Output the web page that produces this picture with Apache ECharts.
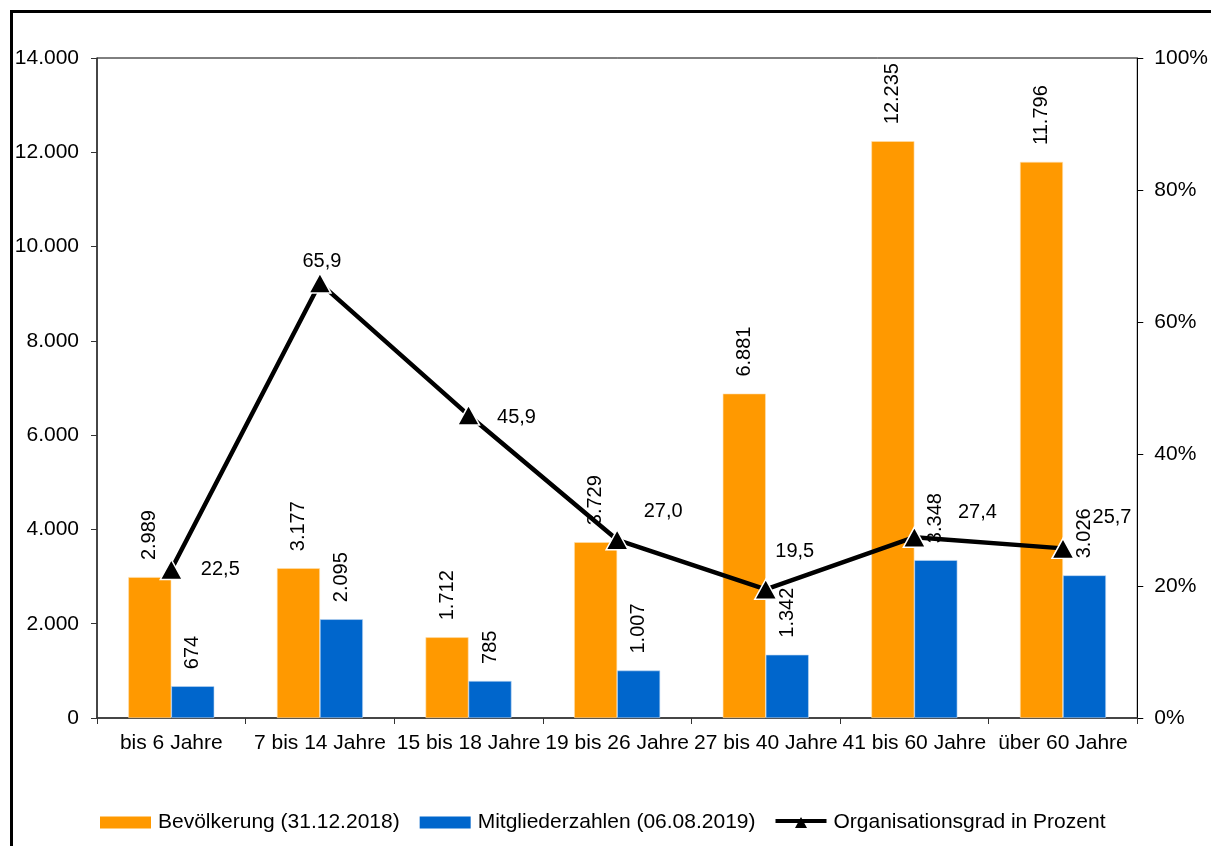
<!DOCTYPE html>
<html>
<head>
<meta charset="utf-8">
<script src="https://cdn.jsdelivr.net/npm/echarts@6/dist/echarts.min.js"></script>
<style>
html,body{margin:0;padding:0;background:#fff;overflow:hidden;}
#chart{width:1211px;height:846px;}
</style>
</head>
<body>
<div id="chart"></div>
<script>
var categories = ['bis 6 Jahre','7 bis 14 Jahre','15 bis 18 Jahre','19 bis 26 Jahre','27 bis 40 Jahre','41 bis 60 Jahre','über 60 Jahre'];
var bevoelkerung = [2989, 3177, 1712, 3729, 6881, 12235, 11796];
var mitglieder = [674, 2095, 785, 1007, 1342, 3348, 3026];
var organisationsgrad = [22.5, 65.9, 45.9, 27.0, 19.5, 27.4, 25.7];
var leftTicks = {min: 0, max: 14000, interval: 2000};
var rightTicks = {min: 0, max: 100, interval: 20};

// label offsets for line labels (style only)
var lineLabelOffsets = [[49,0],[2,-22],[48,2],[46,-28],[29,-38],[63,-25],[49,-31]];

var FONT = 'Liberation Sans, Arial, sans-serif';
function de(v){ return String(v).replace(/\B(?=(\d{3})+(?!\d))/g, '.'); }

var chart = echarts.init(document.getElementById('chart'), null, {renderer:'canvas'});

var barLabel = {
  show: true, position: 'top', rotate: 90, align: 'left', verticalAlign: 'middle',
  distance: 17, fontFamily: FONT, fontSize: 20, color: '#000',
  formatter: function(p){ return de(p.value); }
};

var lineData = organisationsgrad.map(function(v, i){
  return {
    value: v,
    label: {offset: lineLabelOffsets[i]}
  };
});

var lineIcon = 'path://M0,5H51V9H0Z M19.5,14L25.5,3L31.5,14Z';

chart.setOption({
  backgroundColor: '#fff',
  animation: false,
  graphic: [{
    type: 'rect', left: 9, top: 9, z: 100,
    shape: {x: 0, y: 0, width: 1400, height: 1000},
    style: {fill: 'none', stroke: '#000', lineWidth: 3}
  }],
  grid: {left: 97, right: 63, top: 58, bottom: 128, show: true, borderColor: '#000', borderWidth: 1},
  legend: {
    left: 100, top: 812, padding: 0, itemWidth: 51, itemHeight: 12, itemGap: 20,
    textStyle: {fontFamily: FONT, fontSize: 21, color: '#000', padding: [0,0,0,2]},
    data: [
      {name: 'Bevölkerung (31.12.2018)', icon: 'rect', itemStyle: {borderWidth: 0}},
      {name: 'Mitgliederzahlen (06.08.2019)', icon: 'rect', itemStyle: {borderWidth: 0}},
      {name: 'Organisationsgrad in Prozent', icon: lineIcon, itemStyle: {color: '#000', borderWidth: 0}}
    ]
  },
  xAxis: {
    type: 'category', data: categories, boundaryGap: true,
    axisLine: {lineStyle: {color: '#333', width: 1.5}},
    axisTick: {show: true, length: 6, lineStyle: {color: '#333'}},
    axisLabel: {fontFamily: FONT, fontSize: 21, color: '#000', margin: 15, interval: 0}
  },
  yAxis: [{
    type: 'value', min: leftTicks.min, max: leftTicks.max, interval: leftTicks.interval,
    axisLine: {show: true, lineStyle: {color: '#333', width: 1.5}},
    axisTick: {show: true, length: 6, lineStyle: {color: '#333'}},
    splitLine: {show: false},
    axisLabel: {fontFamily: FONT, fontSize: 21, color: '#000', margin: 18, formatter: function(v){ return de(v); }}
  }, {
    type: 'value', min: rightTicks.min, max: rightTicks.max, interval: rightTicks.interval, position: 'right',
    axisLine: {show: true, lineStyle: {color: '#000', width: 1}},
    axisTick: {show: true, length: 6, lineStyle: {color: '#000'}},
    splitLine: {show: false},
    axisLabel: {fontFamily: FONT, fontSize: 21, color: '#000', margin: 17, formatter: '{value}%'}
  }],
  series: [{
    name: 'Bevölkerung (31.12.2018)', type: 'bar', data: bevoelkerung,
    barWidth: 43, barGap: '0%', z: 2,
    itemStyle: {color: '#FF9900', borderColor: '#FFE0B0', borderWidth: 0.6},
    label: barLabel
  }, {
    name: 'Mitgliederzahlen (06.08.2019)', type: 'bar', data: mitglieder,
    barWidth: 43, barGap: '0%', z: 2,
    itemStyle: {color: '#0066CC', borderColor: '#BFD9F2', borderWidth: 0.6},
    label: barLabel
  }, {
    name: 'Organisationsgrad in Prozent', type: 'line', yAxisIndex: 1, data: lineData, z: 5,
    symbol: 'triangle', symbolSize: [22, 20],
    lineStyle: {color: '#000', width: 4.5},
    itemStyle: {color: '#000', borderColor: '#fff', borderWidth: 1.5},
    label: {
      show: true, position: 'inside', fontFamily: FONT, fontSize: 20, color: '#000',
      formatter: function(p){ return p.value.toFixed(1).replace('.', ','); }
    }
  }]
});
</script>
</body>
</html>
